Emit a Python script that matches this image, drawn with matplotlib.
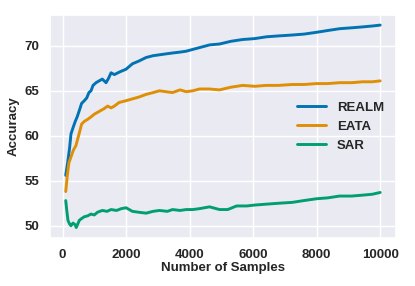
import numpy as np
import matplotlib.pyplot as plt
import seaborn as sns

# values
realm_x = [100, 160, 220, 265, 330, 400, 460, 527, 600, 685, 760, 830, 896, 960,
           1054, 1150, 1252, 1369, 1450, 1527, 1631, 1800, 2000, 2199, 2400, 2631,
           2850, 3051, 3250, 3461, 3700, 3893, 4100, 4313, 4628, 4943, 5300, 5670,
           6050, 6417, 6800, 7238, 7600, 7994, 8350, 8720, 9100, 9446, 9750, 10000]
realm_y = [55.6, 57.0, 58.6, 60.2, 60.9, 61.6, 62.1, 62.8, 63.6, 63.9, 64.2, 64.8,
           65.0, 65.6, 65.9, 66.1, 66.3, 65.9, 66.4, 67.0, 66.8, 67.1, 67.4, 68.0,
           68.3, 68.7, 68.9, 69.0, 69.1, 69.2, 69.3, 69.4, 69.6, 69.8, 70.1, 70.2,
           70.5, 70.7, 70.8, 71.0, 71.1, 71.2, 71.3, 71.5, 71.7, 71.9, 72.0, 72.1,
           72.2, 72.3]

eata_x = [100, 150, 200, 260, 340, 420, 527, 600, 685, 780, 896, 1000, 1100, 1200,
          1300, 1420, 1527, 1631, 1780, 2000, 2199, 2400, 2631, 2850, 3051, 3250,
          3461, 3700, 3893, 4100, 4313, 4628, 4943, 5300, 5670, 6050, 6417, 6800,
          7238, 7600, 7994, 8350, 8720, 9100, 9446, 9750, 10000]
eata_y = [53.8, 55.6, 57.0, 57.6, 58.4, 58.9, 60.3, 61.3, 61.6, 61.8, 62.1, 62.4,
          62.6, 62.8, 63.0, 63.3, 63.1, 63.3, 63.7, 63.9, 64.1, 64.3, 64.6, 64.8,
          65.0, 64.9, 64.8, 65.1, 64.9, 65.0, 65.2, 65.2, 65.1, 65.4, 65.6, 65.5,
          65.6, 65.6, 65.7, 65.7, 65.8, 65.8, 65.9, 65.9, 66.0, 66.0, 66.1]

sar_x = [100, 130, 170, 220, 265, 330, 400, 430, 480, 527, 600, 685, 790, 896,
         1000, 1100, 1252, 1400, 1527, 1700, 1850, 2000, 2199, 2400, 2631, 2850,
         3051, 3300, 3461, 3700, 3893, 4100, 4313, 4628, 4943, 5200, 5480, 5800,
         6050, 6417, 6800, 7238, 7600, 7994, 8350, 8720, 9100, 9446, 9750, 10000]
sar_y = [52.8, 51.8, 50.6, 50.2, 50.0, 50.3, 50.1, 49.8, 50.2, 50.6, 50.8, 51.0,
         51.1, 51.3, 51.2, 51.5, 51.7, 51.6, 51.8, 51.7, 51.9, 52.0, 51.6, 51.5,
         51.4, 51.6, 51.7, 51.6, 51.8, 51.7, 51.8, 51.8, 51.9, 52.1, 51.8, 51.8,
         52.2, 52.2, 52.3, 52.4, 52.5, 52.6, 52.8, 53.0, 53.1, 53.3, 53.3, 53.4,
         53.5, 53.7]

sns.set_theme(style="darkgrid", palette="colorblind")
plt.rcParams["font.family"] = ["Liberation Sans", "DejaVu Sans"]
plt.rcParams["font.weight"] = "bold"

colors = sns.color_palette("colorblind")

fig = plt.figure(figsize=(4.15, 2.86), dpi=100)
ax = fig.add_axes([0.1205, 0.169, 0.8335, 0.7786])

ax.plot(realm_x, realm_y, color=colors[0], lw=2.1, label="REALM")
ax.plot(eata_x, eata_y, color=colors[1], lw=2.1, label="EATA")
ax.plot(sar_x, sar_y, color=colors[2], lw=2.1, label="SAR")

ax.set_xticks([0, 2000, 4000, 6000, 8000, 10000])
ax.set_yticks([50, 55, 60, 65, 70])
ax.tick_params(axis="both", labelsize=9.5, pad=2, labelcolor="#262626")
for lab in ax.get_xticklabels() + ax.get_yticklabels():
    lab.set_fontweight("bold")

ax.set_xlabel("Number of Samples", fontsize=9.5, fontweight="bold", labelpad=1)
ax.set_ylabel("Accuracy", fontsize=9.5, fontweight="bold", labelpad=3)

leg = ax.legend(loc="center right", frameon=False, fontsize=9.5,
                handlelength=2.2, bbox_to_anchor=(1.0, 0.498))
for t in leg.get_texts():
    t.set_fontweight("bold")

fig.savefig("out.png", dpi=100)
